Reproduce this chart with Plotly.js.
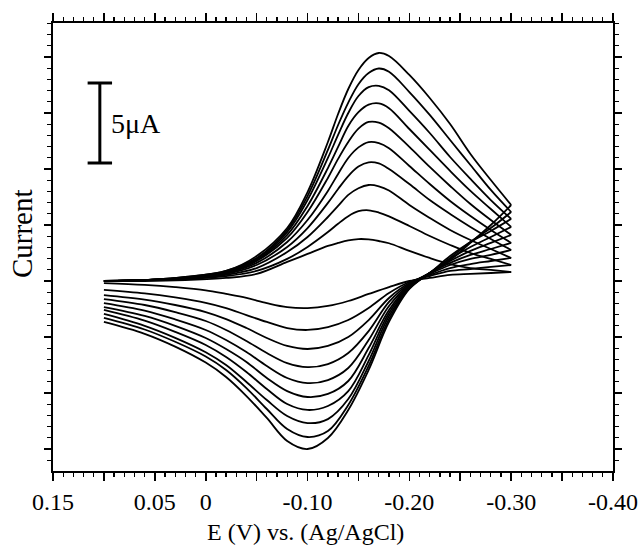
<!DOCTYPE html>
<html>
<head>
<meta charset="utf-8">
<script src="https://cdn.plot.ly/plotly-3.0.1.min.js"></script>
<style>html,body{margin:0;padding:0;background:#fff;}#chart{width:639px;height:546px;}</style>
</head>
<body>
<div id="chart"></div>
<script>
// Potential grids (V vs Ag/AgCl)
const forwardE = [0.10, 0.06, 0.02, -0.02, -0.05, -0.08, -0.10, -0.12, -0.13, -0.14, -0.15, -0.16, -0.17, -0.18, -0.20, -0.22, -0.24, -0.26, -0.28, -0.30];
const reverseE = [-0.30, -0.28, -0.26, -0.24, -0.22, -0.20, -0.18, -0.16, -0.14, -0.12, -0.10, -0.08, -0.06, -0.04, -0.02, 0.00, 0.03, 0.06, 0.10];

// Current (µA, relative to baseline) for 10 scan rates, forward (cathodic) sweep
const fwd1  = [0, 0, 0.06, 0.19, 0.44, 1.19, 1.69, 2.19, 2.38, 2.54, 2.62, 2.60, 2.50, 2.36, 1.88, 1.44, 1.06, 0.81, 0.69, 0.56];
const fwd2  = [0, 0.06, 0.13, 0.31, 0.63, 1.38, 2.13, 3.06, 3.58, 4.05, 4.36, 4.42, 4.28, 4.04, 3.44, 2.81, 2.25, 1.75, 1.38, 1.00];
const fwd3  = [0, 0.06, 0.13, 0.38, 0.81, 1.81, 2.75, 4.00, 4.69, 5.38, 5.80, 6.00, 5.92, 5.66, 4.75, 3.94, 3.19, 2.56, 2.00, 1.44];
const fwd4  = [0, 0.06, 0.13, 0.44, 1.00, 2.13, 3.31, 4.88, 5.75, 6.56, 7.15, 7.42, 7.35, 7.00, 6.06, 5.06, 4.19, 3.38, 2.63, 1.94];
const fwd5  = [0, 0.06, 0.19, 0.50, 1.13, 2.44, 3.81, 5.63, 6.69, 7.69, 8.35, 8.68, 8.62, 8.30, 7.19, 6.06, 5.00, 4.06, 3.19, 2.38];
const fwd6  = [0, 0.06, 0.19, 0.50, 1.25, 2.69, 4.31, 6.44, 7.63, 8.69, 9.52, 9.94, 9.90, 9.55, 8.38, 7.13, 5.94, 4.81, 3.81, 2.88];
const fwd7  = [0, 0.06, 0.19, 0.56, 1.31, 2.88, 4.69, 7.06, 8.38, 9.69, 10.55, 11.02, 11.10, 10.80, 9.50, 8.19, 6.88, 5.63, 4.50, 3.38];
const fwd8  = [0, 0.06, 0.19, 0.56, 1.38, 3.06, 5.06, 7.69, 9.13, 10.50, 11.56, 12.12, 12.20, 11.92, 10.63, 9.25, 7.75, 6.38, 5.06, 3.88];
const fwd9  = [0, 0.06, 0.25, 0.63, 1.44, 3.19, 5.31, 8.19, 9.75, 11.15, 12.30, 13.00, 13.28, 13.08, 11.81, 10.38, 8.81, 7.25, 5.69, 4.31];
const fwd10 = [0, 0.06, 0.25, 0.63, 1.56, 3.31, 5.56, 8.69, 10.44, 12.00, 13.19, 13.94, 14.25, 14.06, 12.88, 11.44, 9.81, 7.94, 6.31, 4.75];

// Reverse (anodic) sweep
const rev1  = [0.56, 0.50, 0.44, 0.38, 0.19, 0, -0.38, -0.81, -1.25, -1.56, -1.69, -1.63, -1.38, -1.06, -0.81, -0.58, -0.38, -0.24, -0.13];
const rev2  = [1.00, 0.88, 0.75, 0.63, 0.31, -0.06, -0.75, -1.69, -2.44, -2.88, -3.06, -2.94, -2.56, -2.13, -1.69, -1.36, -1.03, -0.78, -0.56];
const rev3  = [1.44, 1.25, 1.06, 0.81, 0.38, -0.13, -1.06, -2.44, -3.50, -4.06, -4.25, -4.06, -3.56, -2.94, -2.38, -1.94, -1.50, -1.16, -0.88];
const rev4  = [1.94, 1.63, 1.38, 1.00, 0.44, -0.19, -1.31, -3.13, -4.50, -5.19, -5.38, -5.13, -4.50, -3.75, -3.06, -2.50, -1.95, -1.50, -1.13];
const rev5  = [2.38, 2.00, 1.63, 1.13, 0.50, -0.25, -1.56, -3.69, -5.44, -6.19, -6.38, -6.06, -5.31, -4.44, -3.69, -3.06, -2.40, -1.85, -1.38];
const rev6  = [2.88, 2.38, 1.88, 1.25, 0.50, -0.31, -1.81, -4.19, -6.25, -7.06, -7.25, -6.88, -6.06, -5.06, -4.25, -3.56, -2.80, -2.18, -1.63];
const rev7  = [3.38, 2.75, 2.13, 1.38, 0.50, -0.38, -2.00, -4.63, -6.88, -7.81, -8.06, -7.69, -6.75, -5.69, -4.75, -4.00, -3.18, -2.48, -1.81];
const rev8  = [3.88, 3.13, 2.44, 1.56, 0.50, -0.44, -2.19, -5.00, -7.38, -8.63, -8.88, -8.44, -7.44, -6.31, -5.25, -4.45, -3.55, -2.80, -2.06];
const rev9  = [4.31, 3.31, 2.44, 1.44, 0.50, -0.44, -2.38, -5.31, -7.75, -9.38, -9.75, -9.25, -8.00, -6.69, -5.56, -4.72, -3.80, -3.03, -2.31];
const rev10 = [4.75, 3.50, 2.38, 1.31, 0.50, -0.50, -2.56, -5.56, -8.06, -9.81, -10.50, -10.00, -8.56, -7.19, -6.00, -5.10, -4.10, -3.30, -2.56];

const forwardSets = [fwd1, fwd2, fwd3, fwd4, fwd5, fwd6, fwd7, fwd8, fwd9, fwd10];
const reverseSets = [rev1, rev2, rev3, rev4, rev5, rev6, rev7, rev8, rev9, rev10];

// Axis ticks
const xTickVals = [0.15, 0.10, 0.05, 0, -0.05, -0.10, -0.15, -0.20, -0.25, -0.30, -0.35, -0.40];
const xTickText = ['0.15', '', '0.05', '0', '', '-0.10', '', '-0.20', '', '-0.30', '', '-0.40'];
const xMinorStep = 0.01;
const xRange = [0.15, -0.40];
const yRange = [-11.875, 16.125];

// Scale bar (µA)
const scaleBarValue = 5;
const scaleBarLabel = '5\u03bcA';
const scaleBarE = 0.104;
const scaleBarBottom = 7.375;
const scaleBarCapHalf = 0.012;

const lineStyle = {color: '#000', width: 1.8, shape: 'spline', smoothing: 1};
const traces = [];
forwardSets.forEach(ys => traces.push({x: forwardE, y: ys, mode: 'lines', line: lineStyle, hoverinfo: 'skip'}));
reverseSets.forEach(ys => traces.push({x: reverseE, y: ys, mode: 'lines', line: lineStyle, hoverinfo: 'skip'}));

const font = 'Liberation Serif, Times New Roman, serif';

const layout = {
  width: 639, height: 546,
  margin: {l: 53, r: 26, t: 23, b: 75},
  paper_bgcolor: '#fff', plot_bgcolor: '#fff',
  showlegend: false,
  font: {family: font, color: '#000'},
  xaxis: {
    range: xRange, side: 'bottom',
    tickmode: 'array', tickvals: xTickVals, ticktext: xTickText,
    ticks: 'outside', ticklen: 8, tickwidth: 1.6, tickcolor: '#000',
    minor: {tickmode: 'linear', tick0: 0, dtick: xMinorStep, ticks: 'outside', ticklen: 4, tickwidth: 1.3, tickcolor: '#000'},
    showticklabels: true,
    showline: true, linecolor: '#000', linewidth: 2, mirror: 'ticks',
    showgrid: false, zeroline: false,
    tickfont: {family: font, size: 24, color: '#000'}
  },
  yaxis: {
    range: yRange,
    tickmode: 'linear', tick0: 0, dtick: 3.5,
    showticklabels: false,
    ticks: 'outside', ticklen: 7, tickwidth: 1.5, tickcolor: '#000',
    minor: {tickmode: 'linear', tick0: 0, dtick: 0.7, ticks: 'outside', ticklen: 4, tickwidth: 1.2, tickcolor: '#000'},
    showline: true, linecolor: '#000', linewidth: 2, mirror: 'ticks',
    showgrid: false, zeroline: false
  },
  shapes: [
    {type: 'line', xref: 'x', yref: 'y', x0: scaleBarE, x1: scaleBarE, y0: scaleBarBottom, y1: scaleBarBottom + scaleBarValue, line: {color: '#000', width: 3}},
    {type: 'line', xref: 'x', yref: 'y', x0: scaleBarE + scaleBarCapHalf, x1: scaleBarE - scaleBarCapHalf, y0: scaleBarBottom, y1: scaleBarBottom, line: {color: '#000', width: 3}},
    {type: 'line', xref: 'x', yref: 'y', x0: scaleBarE + scaleBarCapHalf, x1: scaleBarE - scaleBarCapHalf, y0: scaleBarBottom + scaleBarValue, y1: scaleBarBottom + scaleBarValue, line: {color: '#000', width: 3}}
  ],
  annotations: [
    {text: scaleBarLabel, xref: 'x', yref: 'y', x: scaleBarE - 0.009, y: scaleBarBottom + scaleBarValue / 2, xanchor: 'left', yanchor: 'middle', showarrow: false, font: {family: font, size: 28, color: '#000'}},
    {text: 'E (V) vs. (Ag/AgCl)', xref: 'paper', yref: 'paper', x: 0.451, y: -0.136, xanchor: 'center', yanchor: 'middle', showarrow: false, font: {family: font, size: 24, color: '#000'}},
    {text: 'Current', xref: 'paper', yref: 'paper', x: -0.0554, y: 0.531, xanchor: 'center', yanchor: 'middle', textangle: -90, showarrow: false, font: {family: font, size: 29, color: '#000'}}
  ]
};

Plotly.newPlot('chart', traces, layout, {displayModeBar: false, staticPlot: true});
</script>
</body>
</html>
